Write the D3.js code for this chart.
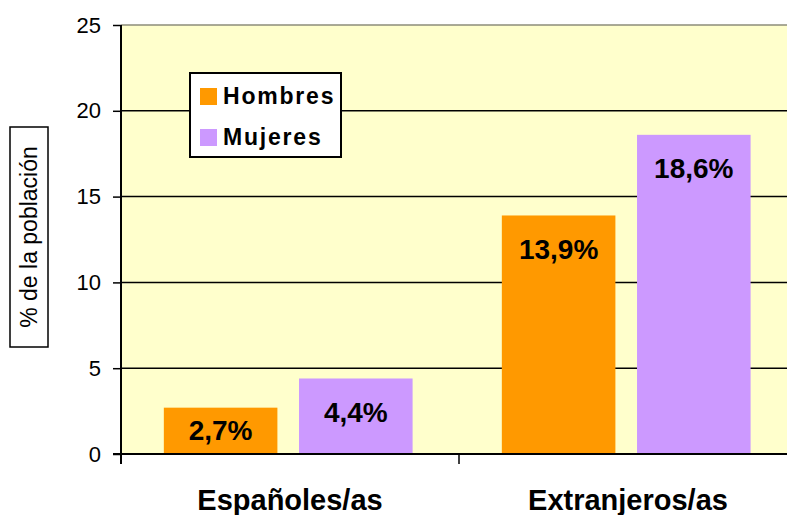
<!DOCTYPE html>
<html>
<head>
<meta charset="utf-8">
<script src="https://cdn.jsdelivr.net/npm/d3@7"></script>
<style>
  body { margin: 0; background: #fff; }
  text { font-family: Arial, "Liberation Sans", sans-serif; }
</style>
</head>
<body>
<script>
// data
var categories = ["Españoles/as", "Extranjeros/as"];
var series = ["Hombres", "Mujeres"];
var hombres = [2.7, 13.9];
var mujeres = [4.4, 18.6];
var valueLabels = [["2,7%", "4,4%"], ["13,9%", "18,6%"]];
var yTicks = [0, 5, 10, 15, 20, 25];
var colors = ["#ff9900", "#cc99ff"];

var margin = {top: 25, right: -10, bottom: 61, left: 121};
var width = 787 - margin.left - margin.right;
var height = 515 - margin.top - margin.bottom;

var svg = d3.select("body")
  .append("svg")
    .attr("width", 787)
    .attr("height", 515);

var g = svg.append("g")
    .attr("transform", "translate(" + margin.left + "," + margin.top + ")");

var x0 = d3.scaleBand()
  .domain(categories)
  .range([0, width])
  .padding(0);

var x1 = d3.scaleBand()
  .domain(series)
  .range([0, x0.bandwidth()])
  .paddingInner(0.16)
  .paddingOuter(0.33)
  .align(0.48);

var y = d3.scaleLinear()
  .domain([0, 25])
  .range([height, 0]);

// plot background
g.append("rect")
  .attr("x", 0).attr("y", 0)
  .attr("width", width).attr("height", height)
  .attr("fill", "#ffffcc");

// gridlines
g.selectAll(".grid")
  .data(yTicks.filter(function(d) { return d > 0; }))
  .enter().append("line")
    .attr("x1", 0).attr("x2", width)
    .attr("y1", function(d) { return y(d); })
    .attr("y2", function(d) { return y(d); })
    .attr("stroke", function(d) { return d == 25 ? "#8c8c7a" : "#000"; })
    .attr("stroke-width", 1.5);

// bars
var rows = categories.map(function(c, i) {
  return {cat: c, vals: [hombres[i], mujeres[i]], labels: valueLabels[i]};
});

var groups = g.selectAll(".grp")
  .data(rows)
  .enter().append("g")
    .attr("transform", function(d) { return "translate(" + x0(d.cat) + ",0)"; });

groups.selectAll("rect")
  .data(function(d) { return d.vals.map(function(v, j) { return {s: series[j], v: v, label: d.labels[j], j: j}; }); })
  .enter().append("rect")
    .attr("x", function(d) { return x1(d.s); })
    .attr("y", function(d) { return y(d.v); })
    .attr("width", x1.bandwidth())
    .attr("height", function(d) { return height - y(d.v); })
    .attr("fill", function(d) { return colors[d.j]; });

groups.selectAll(".lbl")
  .data(function(d) { return d.vals.map(function(v, j) { return {s: series[j], v: v, label: d.labels[j]}; }); })
  .enter().append("text")
    .attr("x", function(d) { return x1(d.s) + x1.bandwidth() / 2; })
    .attr("y", function(d) { return Math.min(y(d.v) + 33, height - 24); })
    .attr("dy", "0.36em")
    .attr("text-anchor", "middle")
    .attr("font-size", "28px")
    .attr("font-weight", "bold")
    .text(function(d) { return d.label; });

// axes
var leftAxis = d3.axisLeft(y).tickValues(yTicks).tickSize(8).tickPadding(12);
var ay = g.append("g").attr("class", "left axis").call(leftAxis);
ay.select(".domain").remove();
ay.selectAll("line").attr("stroke", "#000").attr("stroke-width", 1.5);
ay.selectAll("text").attr("font-size", "22px").attr("fill", "#000");

g.append("line")
  .attr("x1", 0).attr("x2", 0)
  .attr("y1", 0).attr("y2", height + 10)
  .attr("stroke", "#000").attr("stroke-width", 2);

g.append("line")
  .attr("x1", -8).attr("x2", width)
  .attr("y1", height).attr("y2", height)
  .attr("stroke", "#000").attr("stroke-width", 2);

// category ticks between groups
g.selectAll(".ctick")
  .data(categories)
  .enter().append("line")
    .attr("x1", function(d) { return x0(d) + x0.bandwidth(); })
    .attr("x2", function(d) { return x0(d) + x0.bandwidth(); })
    .attr("y1", height).attr("y2", height + 10)
    .attr("stroke", "#000").attr("stroke-width", 1.5);

g.selectAll(".clabel")
  .data(categories)
  .enter().append("text")
    .attr("x", function(d) { return x0(d) + x0.bandwidth() / 2; })
    .attr("y", height + 56)
    .attr("text-anchor", "middle")
    .attr("font-size", "29px")
    .attr("font-weight", "bold")
    .text(function(d) { return d; });

// y axis title in box
svg.append("rect")
  .attr("x", 10).attr("y", 127)
  .attr("width", 38).attr("height", 220)
  .attr("fill", "#fff").attr("stroke", "#000").attr("stroke-width", 1.5);

svg.append("text")
  .attr("transform", "translate(29,237) rotate(-90)")
  .attr("dy", "0.36em")
  .attr("text-anchor", "middle")
  .attr("font-size", "23px")
  .text("% de la población");

// legend
var legend = svg.append("g").attr("transform", "translate(190,73)");
legend.append("rect")
  .attr("width", 151).attr("height", 84)
  .attr("fill", "#fff").attr("stroke", "#000").attr("stroke-width", 2);

var items = legend.selectAll(".item")
  .data(series)
  .enter().append("g")
    .attr("transform", function(d, i) { return "translate(10," + (15 + i * 41) + ")"; });

items.append("rect")
  .attr("width", 17).attr("height", 17)
  .attr("fill", function(d, i) { return colors[i]; });

items.append("text")
  .attr("x", 23).attr("y", 16)
  .attr("font-size", "23px")
  .attr("font-weight", "bold")
  .attr("letter-spacing", "1.8px")
  .text(function(d) { return d; });
</script>
</body>
</html>
